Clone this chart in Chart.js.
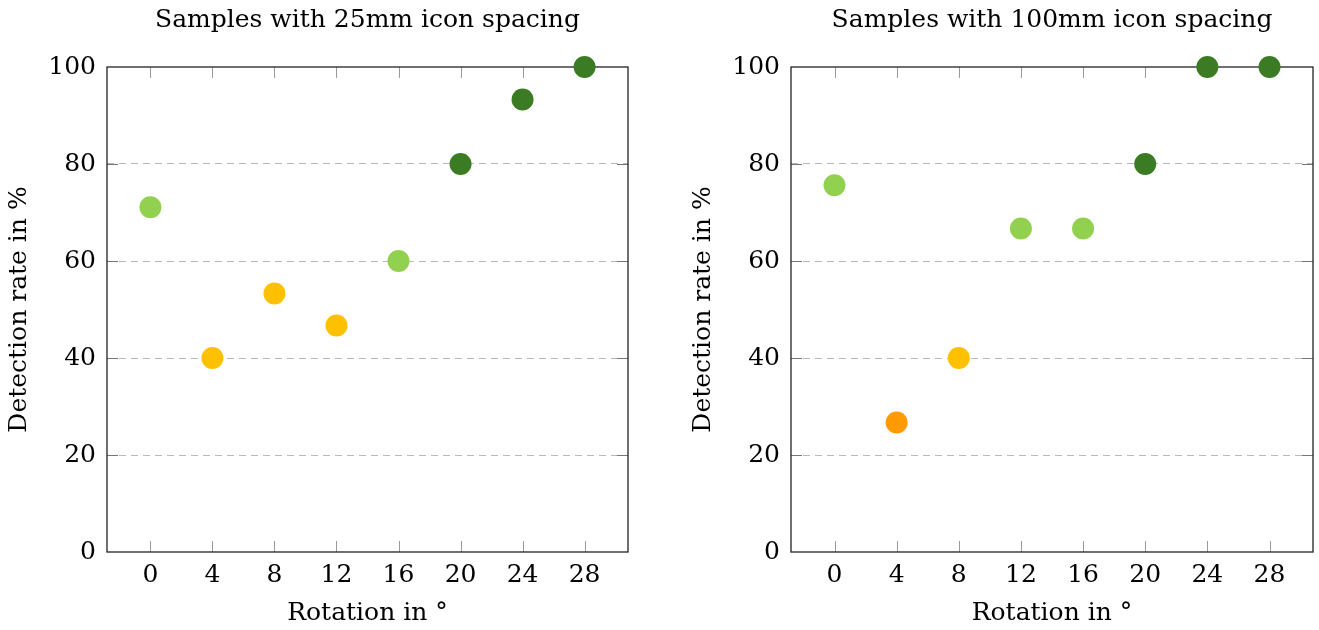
<!DOCTYPE html>
<html><head><meta charset="utf-8">
<script src="https://cdn.jsdelivr.net/npm/chart.js@4"></script>
<style>
html,body{margin:0;padding:0;background:#fff;}
#wrap{position:relative;width:1319px;height:630px;overflow:hidden;}
.c{position:absolute;top:0;height:630px;}
#c1{left:0;width:684px}
#c2{left:684px;width:635px}
</style></head><body>
<div id="wrap"><div class="c" id="c1"><canvas id="a"></canvas></div><div class="c" id="c2"><canvas id="b"></canvas></div></div>
<script>
// ---- data ----
const rotations = [0, 4, 8, 12, 16, 20, 24, 28];
const rate25mm = [71.1, 40, 53.3, 46.7, 60, 80, 93.3, 100];
const rate100mm = [75.6, 26.7, 40, 66.7, 66.7, 80, 100, 100];
const xTickValues = [0, 4, 8, 12, 16, 20, 24, 28];
const yTickValues = [0, 20, 40, 60, 80, 100];
const chartTitles = ['Samples with 25mm icon spacing', 'Samples with 100mm icon spacing'];
const xTitle = 'Rotation in °';
const yTitle = 'Detection rate in %';

// ---- style ----
const FAMILY = '"DejaVu Serif", serif';
const FS = 25;
function colorFor(v) {
  if (v >= 80) return '#3b7b23';
  if (v >= 60) return '#92d050';
  if (v >= 30) return '#ffc000';
  return '#ff9a00';
}

const framePlugin = {
  id: 'frame',
  beforeDatasetsDraw(chart) {
    const {ctx, chartArea: {left, right, top, bottom}, scales: {x, y}} = chart;
    const L = 11;
    ctx.save();
    ctx.lineWidth = 1;
    ctx.strokeStyle = '#9a9a9a';
    ctx.beginPath();
    x.ticks.forEach(t => {
      const px = Math.round(x.getPixelForValue(t.value)) + 0.5;
      ctx.moveTo(px, bottom); ctx.lineTo(px, bottom - L);
      ctx.moveTo(px, top); ctx.lineTo(px, top + L);
    });
    ctx.stroke();
    ctx.strokeStyle = '#777';
    ctx.beginPath();
    y.ticks.forEach(t => {
      if (t.value === y.min || t.value === y.max) return;
      const py = Math.round(y.getPixelForValue(t.value)) + 0.5;
      ctx.moveTo(left, py); ctx.lineTo(left + L, py);
      ctx.moveTo(right, py); ctx.lineTo(right - L, py);
    });
    ctx.stroke();
    ctx.strokeStyle = '#222';
    ctx.lineWidth = 1.3;
    ctx.strokeRect(left, top, right - left, bottom - top);
    ctx.restore();
  }
};

function makeChart(id, title, values, rightPad) {
  const font = {family: FAMILY, size: FS, weight: 'normal'};
  return new Chart(document.getElementById(id), {
    type: 'scatter',
    data: {
      datasets: [{
        data: rotations.map((r, i) => ({x: r, y: values[i]})),
        pointRadius: 11,
        pointHoverRadius: 11,
        borderWidth: 0,
        pointBorderWidth: 0,
        backgroundColor: ctx => colorFor(ctx.raw ? ctx.raw.y : 0),
        pointBackgroundColor: ctx => colorFor(ctx.raw ? ctx.raw.y : 0),
        clip: false
      }]
    },
    options: {
      responsive: true,
      maintainAspectRatio: false,
      animation: false,
      events: [],
      layout: {autoPadding: false, padding: {left: 0, right: rightPad, top: 0, bottom: 0}},
      plugins: {
        legend: {display: false},
        tooltip: {enabled: false},
        title: {
          display: true, text: title, fullSize: false, color: '#000',
          font: font, padding: {top: 5, bottom: 32}
        }
      },
      scales: {
        x: {
          type: 'linear', min: -2.8, max: 30.8,
          afterBuildTicks: s => { s.ticks = xTickValues.map(v => ({value: v})); },
          afterFit: s => { s.height = 78; s.paddingLeft = 0; s.paddingRight = 0; },
          ticks: {font: font, color: '#000', padding: 8, autoSkip: false, maxRotation: 0},
          grid: {display: false, drawTicks: false},
          border: {display: false},
          title: {display: true, text: xTitle, font: font, color: '#000', padding: {top: 0, bottom: 2}}
        },
        y: {
          type: 'linear', min: 0, max: 100,
          afterBuildTicks: s => { s.ticks = yTickValues.map(v => ({value: v})); },
          afterFit: s => { s.width = 107; s.paddingTop = 0; s.paddingBottom = 0; },
          ticks: {font: font, color: '#000', padding: 11},
          grid: {
            drawTicks: false,
            color: c => (c.tick && (c.tick.value === 0 || c.tick.value === 100)) ? 'rgba(0,0,0,0)' : '#b8b8b8',
            lineWidth: 1
          },
          border: {display: false, dash: [7, 5]},
          title: {display: true, text: yTitle, font: font, color: '#000', padding: {top: 4, bottom: 0}}
        }
      }
    },
    plugins: [framePlugin]
  });
}

makeChart('a', chartTitles[0], rate25mm, 56);
makeChart('b', chartTitles[1], rate100mm, 6);
</script>
</body></html>
